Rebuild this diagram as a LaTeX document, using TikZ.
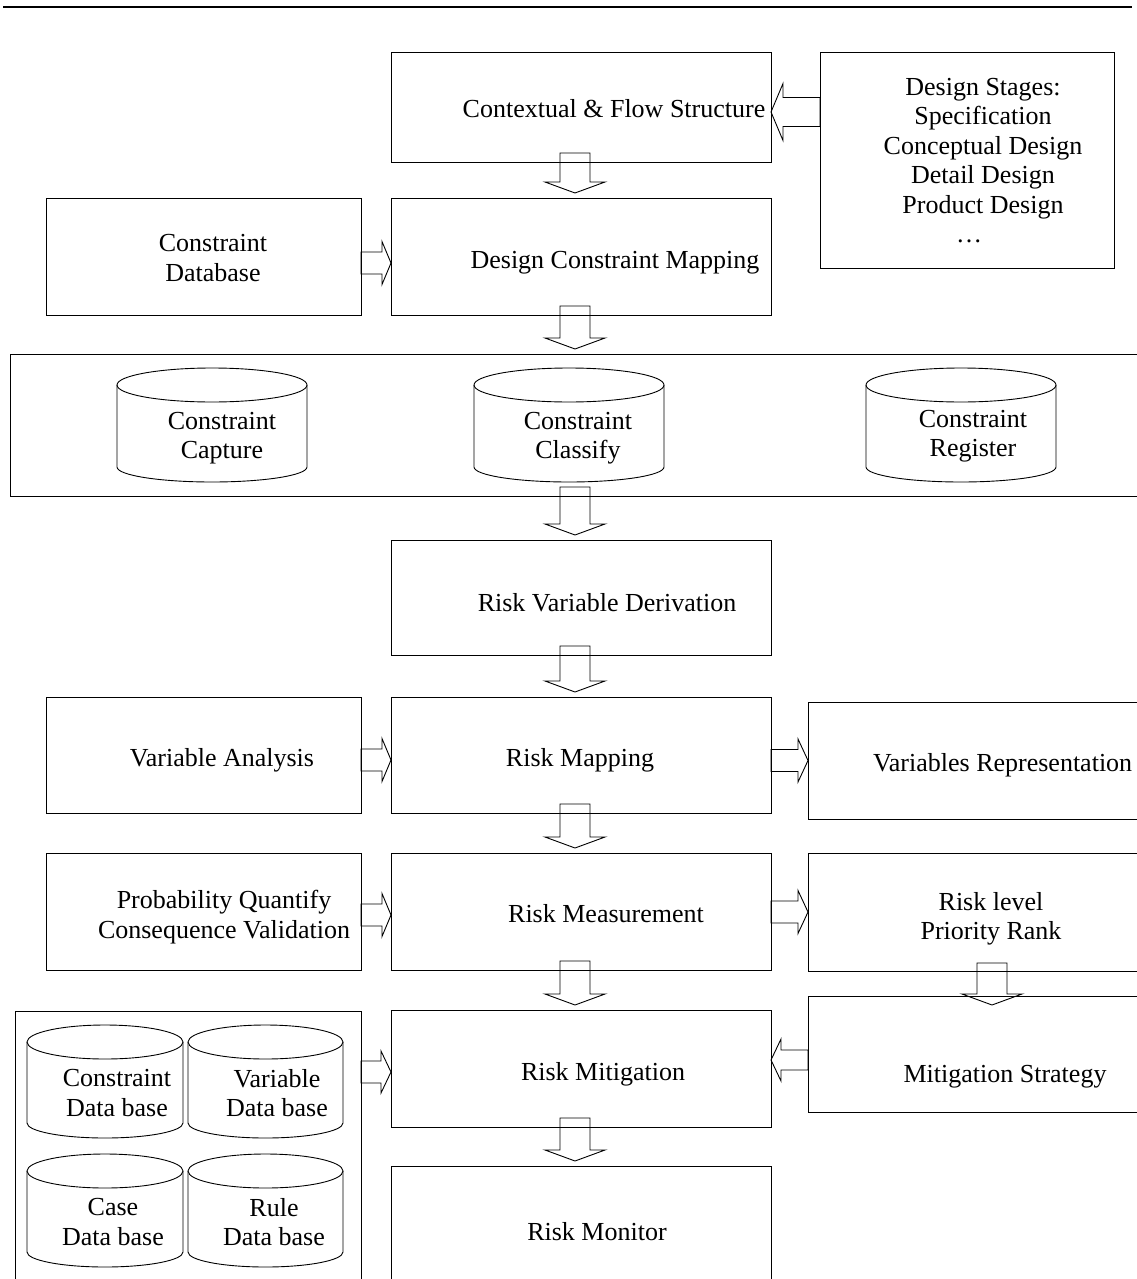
\documentclass[tikz,border=0pt]{standalone}
\usepackage{fontspec}
\setmainfont{Liberation Serif}
\usetikzlibrary{calc}

% hollow block arrow pointing down: source, target, x shift of shaft centre,
% gap of the tip above the target top, depth of the shaft top inside the source
\newcommand{\dblock}[5]{%
  \draw[blk] let \p1=(#1.south), \p2=(#2.north) in
    (\x1+#3-15pt,\y1+#5) -- (\x1+#3-15pt,\y2+#4+11pt) -- (\x1+#3-30pt,\y2+#4+11pt)
    -- (\x1+#3,\y2+#4) -- (\x1+#3+30pt,\y2+#4+11pt) -- (\x1+#3+15pt,\y2+#4+11pt)
    -- (\x1+#3+15pt,\y1+#5) -- cycle;}
% hollow block arrow pointing right: source, target, axis offset, half shaft, half head, head length
\newcommand{\rblock}[6]{%
  \draw[blk] let \p1=(#1.east), \p2=(#2.west) in
    (\x1,\y2+#3+#4) -- (\x2-#6,\y2+#3+#4) -- (\x2-#6,\y2+#3+#5) -- (\x2,\y2+#3)
    -- (\x2-#6,\y2+#3-#5) -- (\x2-#6,\y2+#3-#4) -- (\x1,\y2+#3-#4) -- cycle;}
% hollow block arrow pointing left
\newcommand{\lblock}[6]{%
  \draw[blk] let \p1=(#1.west), \p2=(#2.east) in
    (\x1,\y2+#3+#4) -- (\x2+#6,\y2+#3+#4) -- (\x2+#6,\y2+#3+#5) -- (\x2,\y2+#3)
    -- (\x2+#6,\y2+#3-#5) -- (\x2+#6,\y2+#3-#4) -- (\x1,\y2+#3-#4) -- cycle;}
% database cylinder: centre x, top y, half width, bottom y
\newcommand{\dbcyl}[4]{%
  \draw[line] (#1,#2+17) ellipse [x radius=#3pt, y radius=17pt];
  \draw[line] (#1-#3,#2+17) -- (#1-#3,#4-15)
    arc[start angle=180, end angle=360, x radius=#3pt, y radius=15pt] -- (#1+#3,#2+17);}

\begin{document}
\begin{tikzpicture}[x=1pt,y=-1pt,
  line/.style={draw=black,line width=0.9pt},
  box/.style={line,rectangle,inner sep=0pt,outer sep=0pt},
  blk/.style={line,line join=miter},
  txt/.style={inner sep=0pt,outer sep=0pt,align=center,font=\fontsize{26}{29.5}\selectfont}]
\useasboundingbox (0,0) rectangle (1137,1279);
\clip (0,0) rectangle (1137,1279);

% header rule
\draw[line width=2pt] (3,7) -- (1132,7);

% boxes
\node[box,minimum width=380pt,minimum height=110pt] (cfs) at (581,107) {};
\node[box,minimum width=294pt,minimum height=216pt] (ds) at (967,160) {};
\node[box,minimum width=315pt,minimum height=117pt] (cdb) at (203.5,256.5) {};
\node[box,minimum width=380pt,minimum height=117pt] (dcm) at (581,256.5) {};
\node[box,minimum width=1150pt,minimum height=142pt] (band) at (585,425) {};
\node[box,minimum width=380pt,minimum height=115pt] (rvd) at (581,597.5) {};
\node[box,minimum width=315pt,minimum height=116pt] (va) at (203.5,755) {};
\node[box,minimum width=380pt,minimum height=116pt] (rm) at (581,755) {};
\node[box,minimum width=352pt,minimum height=117pt] (vr) at (984,760.5) {};
\node[box,minimum width=315pt,minimum height=117pt] (pq) at (203.5,911.5) {};
\node[box,minimum width=380pt,minimum height=117pt] (rms) at (581,911.5) {};
\node[box,minimum width=352pt,minimum height=118pt] (rl) at (984,912) {};
\node[box,minimum width=346pt,minimum height=290pt] (dbs) at (188,1156) {};
\node[box,minimum width=380pt,minimum height=117pt] (rmit) at (581,1068.5) {};
\node[box,minimum width=352pt,minimum height=116pt] (ms) at (984,1054) {};
\node[box,minimum width=380pt,minimum height=140pt] (rmon) at (581,1236) {};

% cylinders
\dbcyl{212}{368}{95}{482}
\dbcyl{569}{368}{95}{482}
\dbcyl{961}{368}{95}{482}
\dbcyl{105}{1025}{78}{1138}
\dbcyl{265.5}{1025}{77.5}{1138}
\dbcyl{105}{1154}{78}{1267}
\dbcyl{265.5}{1154}{77.5}{1267}

% labels
\node[txt] (cfs-t) at (614,109) {Contextual \& Flow Structure};
\node[txt] (ds-t) at (983,160.5) {Design Stages:\\Specification\\Conceptual Design\\Detail Design\\Product Design\\…\hspace*{28pt}};
\node[txt] (cdb-t) at (213,258) {Constraint\\Database};
\node[txt] (dcm-t) at (615,263) {Design Constraint Mapping};
\node[txt] (cap-t) at (222,438) {Constraint\\Capture};
\node[txt] (cls-t) at (578,438) {Constraint\\Classify};
\node[txt] (reg-t) at (973,436) {Constraint\\Register};
\node[txt] (rvd-t) at (607,603) {Risk Variable Derivation};
\node[txt] (va-t) at (222,760) {Variable Analysis};
\node[txt] (rm-t) at (580,760) {Risk Mapping};
\node[txt,anchor=west] (vr-t) at (873,765) {Variables Representation};
\node[txt] (pq-t) at (224,917) {Probability Quantify\\Consequence Validation};
\node[txt] (rms-t) at (606,914) {Risk Measurement};
\node[txt] (rl-t) at (991,919) {Risk level\\Priority Rank};
\node[txt] (ms-t) at (1005,1077) {Mitigation Strategy};
\node[txt] (rmit-t) at (603,1074) {Risk Mitigation};
\node[txt] (cdbs-t) at (117,1093) {Constraint\\Data base};
\node[txt] (vdbs-t) at (277,1093) {Variable\\Data base};
\node[txt] (case-t) at (113,1222) {Case\\Data base};
\node[txt] (rule-t) at (274,1222) {Rule\\Data base};
\node[txt] (rmon-t) at (597,1232) {Risk Monitor};

% vertical flow
\dblock{cfs}{dcm}{-6pt}{5pt}{9pt}
\dblock{dcm}{band}{-6pt}{5pt}{9pt}
\dblock{band}{rvd}{-10pt}{5pt}{9pt}
\dblock{rvd}{rm}{-6pt}{5pt}{9pt}
\dblock{rm}{rms}{-6pt}{5pt}{9pt}
\dblock{rms}{rmit}{-6pt}{5pt}{9pt}
\dblock{rmit}{rmon}{-6pt}{5pt}{9pt}
\dblock{rl}{ms}{8pt}{-9pt}{8pt}

% side inputs and outputs
\lblock{ds}{cfs}{-5pt}{14.5pt}{28.5pt}{12pt}
\rblock{cdb}{dcm}{-6.5pt}{11pt}{21.5pt}{9pt}
\rblock{va}{rm}{-5pt}{11pt}{21.5pt}{9pt}
\rblock{rm}{vr}{0pt}{11pt}{21.5pt}{10pt}
\rblock{pq}{rms}{-3.5pt}{11pt}{21.5pt}{9pt}
\rblock{rms}{rl}{0pt}{11pt}{21.5pt}{10pt}
\rblock{dbs}{rmit}{-3.5pt}{11pt}{21pt}{10pt}
\lblock{ms}{rmit}{8.5pt}{10pt}{21pt}{10pt}
\end{tikzpicture}
\end{document}
